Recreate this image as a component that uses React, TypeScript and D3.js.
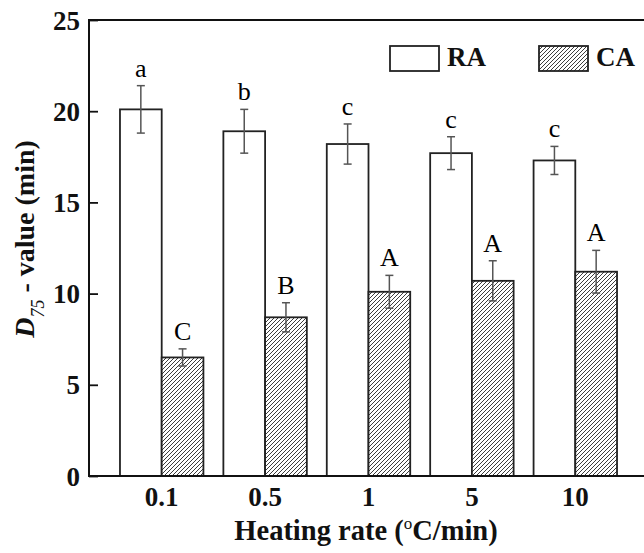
import React, { useRef, useEffect } from "react";
import * as d3 from "d3";

// Heating rates (°C/min) on the x axis
const rates = ["0.1", "0.5", "1", "5", "10"];
const series = ["RA", "CA"];

// D75 values (min) and their error bars
const raValues = [20.1, 18.9, 18.2, 17.7, 17.3];
const raErrors = [1.3, 1.2, 1.1, 0.9, 0.77];
const caValues = [6.5, 8.7, 10.1, 10.7, 11.2];
const caErrors = [0.47, 0.8, 0.9, 1.1, 1.17];

// significance letters
const raLetters = ["a", "b", "c", "c", "c"];
const caLetters = ["C", "B", "A", "A", "A"];

const yTicks = [0, 5, 10, 15, 20, 25];

const FONT = "'Liberation Serif', 'Times New Roman', serif";

const App: React.FC = () => {
  const svgRef = useRef<SVGSVGElement>(null);

  useEffect(() => {
    const width = 644;
    const height = 553;
    const left = 89;
    const top = 20;
    const bottom = 476;
    const right = 680; // right frame falls outside the picture

    const svg = d3
      .select(svgRef.current)
      .attr("width", width)
      .attr("height", height)
      .style("font-family", FONT);

    svg.selectAll("*").remove();

    // hatch pattern for CA
    const defs = svg.append("defs");
    const pat = defs
      .append("pattern")
      .attr("id", "hatch")
      .attr("patternUnits", "userSpaceOnUse")
      .attr("width", 4)
      .attr("height", 4);
    pat.append("rect").attr("width", 4).attr("height", 4).attr("fill", "white");
    pat
      .append("path")
      .attr("d", "M-1,1 l2,-2 M0,4 l4,-4 M3,5 l2,-2")
      .attr("stroke", "#333")
      .attr("stroke-width", 0.95);

    const y = d3.scaleLinear().domain([0, 25]).range([bottom, top]);
    const x = d3
      .scaleBand<string>()
      .domain(rates)
      .range([110, 627])
      .paddingInner(0.193)
      .paddingOuter(0.0965);
    const xs = d3
      .scaleBand<string>()
      .domain(series)
      .range([0, x.bandwidth()]);

    const data = rates.flatMap((r, i) => [
      { rate: r, s: "RA", v: raValues[i], e: raErrors[i], l: raLetters[i] },
      { rate: r, s: "CA", v: caValues[i], e: caErrors[i], l: caLetters[i] },
    ]);

    // bars
    svg
      .append("g")
      .selectAll("rect")
      .data(data)
      .join("rect")
      .attr("x", (d) => x(d.rate)! + xs(d.s)!)
      .attr("y", (d) => y(d.v))
      .attr("width", xs.bandwidth())
      .attr("height", (d) => y(0) - y(d.v))
      .attr("fill", (d) => (d.s === "RA" ? "white" : "url(#hatch)"))
      .attr("stroke", "#222")
      .attr("stroke-width", 1.8);

    // error bars
    const eb = svg
      .append("g")
      .attr("stroke", "#555")
      .attr("stroke-width", 1.5)
      .selectAll("g")
      .data(data)
      .join("g")
      .attr(
        "transform",
        (d) => `translate(${x(d.rate)! + xs(d.s)! + xs.bandwidth() / 2},0)`
      );
    eb.append("line")
      .attr("y1", (d) => y(d.v + d.e))
      .attr("y2", (d) => y(d.v - d.e));
    eb.append("line")
      .attr("x1", -4)
      .attr("x2", 4)
      .attr("y1", (d) => y(d.v + d.e))
      .attr("y2", (d) => y(d.v + d.e));
    eb.append("line")
      .attr("x1", -4)
      .attr("x2", 4)
      .attr("y1", (d) => y(d.v - d.e))
      .attr("y2", (d) => y(d.v - d.e));

    // letters
    svg
      .append("g")
      .attr("text-anchor", "middle")
      .attr("font-size", 26)
      .selectAll("text")
      .data(data)
      .join("text")
      .attr("x", (d) => x(d.rate)! + xs(d.s)! + xs.bandwidth() / 2)
      .attr("y", (d) => y(d.v + d.e) - 9)
      .text((d) => d.l);

    // frame
    const frame = svg
      .append("g")
      .attr("stroke", "#111")
      .attr("stroke-width", 2)
      .attr("fill", "none");
    frame.append("line").attr("x1", left).attr("x2", left).attr("y1", top - 1).attr("y2", bottom + 1);
    frame.append("line").attr("x1", left).attr("x2", right).attr("y1", top).attr("y2", top);
    frame.append("line").attr("x1", left).attr("x2", right).attr("y1", bottom).attr("y2", bottom);

    // y axis ticks (inward)
    const yAxis = svg
      .append("g")
      .attr("transform", `translate(${left},0)`)
      .call(
        d3
          .axisLeft(y)
          .tickValues(yTicks)
          .tickSizeInner(-9)
          .tickSizeOuter(0)
          .tickPadding(9)
      );
    yAxis.select(".domain").remove();
    yAxis.selectAll("line").attr("stroke", "#111").attr("stroke-width", 1.8);
    yAxis
      .selectAll("text")
      .attr("font-family", FONT)
      .attr("font-size", 27)
      .attr("font-weight", "bold")
      .attr("fill", "#111")
      .attr("dy", "0.34em");

    // x tick labels
    svg
      .append("g")
      .attr("text-anchor", "middle")
      .attr("font-size", 27)
      .attr("font-weight", "bold")
      .attr("fill", "#111")
      .selectAll("text")
      .data(rates)
      .join("text")
      .attr("x", (d) => x(d)! + x.bandwidth() / 2)
      .attr("y", 506)
      .text((d) => d);

    // x title
    const xt = svg
      .append("text")
      .attr("x", 366)
      .attr("y", 540)
      .attr("text-anchor", "middle")
      .attr("font-size", 28.5)
      .attr("font-weight", "bold")
      .attr("fill", "#111");
    xt.append("tspan").text("Heating rate (");
    xt.append("tspan").attr("font-size", 17).attr("font-weight", "normal").attr("dy", -11).text("o");
    xt.append("tspan").attr("dy", 11).text("C/min)");

    // y title
    const yt = svg
      .append("text")
      .attr("transform", "translate(34,239) rotate(-90)")
      .attr("text-anchor", "middle")
      .attr("font-size", 28)
      .attr("font-weight", "bold")
      .attr("fill", "#111");
    yt.append("tspan").attr("font-style", "italic").text("D");
    yt.append("tspan")
      .attr("font-style", "italic")
      .attr("font-weight", "normal")
      .attr("font-size", 18)
      .attr("dy", 10)
      .text("75");
    yt.append("tspan").attr("dy", -10).text(" - value (min)");

    // legend
    const legend = svg
      .append("g")
      .attr("font-size", 27)
      .attr("font-weight", "bold")
      .attr("fill", "#111");
    const items = [
      { s: "RA", x: 390, fill: "white" },
      { s: "CA", x: 539, fill: "url(#hatch)" },
    ];
    const li = legend
      .selectAll("g")
      .data(items)
      .join("g")
      .attr("transform", (d) => `translate(${d.x},46)`);
    li.append("rect")
      .attr("width", 49)
      .attr("height", 25)
      .attr("fill", (d) => d.fill)
      .attr("stroke", "#222")
      .attr("stroke-width", 1.8);
    li.append("text")
      .attr("x", 57)
      .attr("y", 20)
      .text((d) => d.s);
  }, []);

  return (
    <svg
      ref={svgRef}
      style={{ position: "absolute", left: 0, top: 0, display: "block" }}
    ></svg>
  );
};

export default App;
